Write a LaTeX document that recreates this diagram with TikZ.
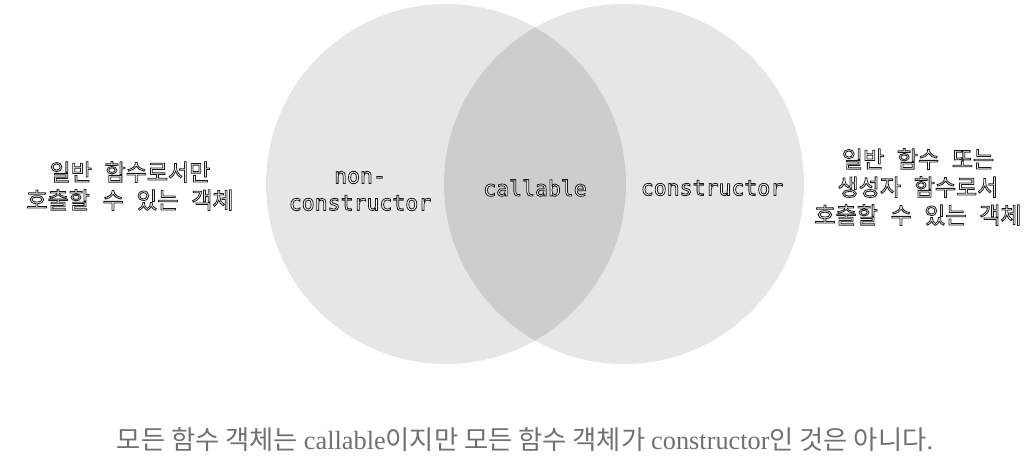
\documentclass[tikz,border=0pt]{standalone}
\usepackage{fontspec}
\setmainfont{Liberation Serif}
\newfontfamily\kr{Noto Sans CJK KR}
\newfontfamily\mono{DejaVu Sans Mono}
\definecolor{circ}{HTML}{E6E6E6}
\definecolor{lens}{HTML}{CDCDCD}
\definecolor{capgray}{HTML}{707070}
\newcommand\olt[1]{\special{pdf:literal direct 2 Tr 0.8 w 0.1 0.1 0.1 RG}#1\special{pdf:literal direct 0 Tr}}
\newcommand\ks{\hspace{0.55em}}
\begin{document}
\begin{tikzpicture}[x=1pt,y=-1pt,
  hangul/.style={font=\kr\fontsize{23}{28}\selectfont, text=white, align=center, inner sep=0pt},
  monolbl/.style={font=\mono\fontsize{21.5}{27}\selectfont, text=white, align=center, inner sep=0pt},
  captionstyle/.style={font=\fontsize{26.3}{30}\selectfont, text=capgray, inner sep=0pt}
]
\useasboundingbox (0,0) rectangle (1035,473);
\coordinate (cL) at (446,184);
\coordinate (cR) at (624,184);
\fill[circ] (cL) circle[radius=180pt];
\fill[circ] (cR) circle[radius=180pt];
\begin{scope}
  \clip (cL) circle[radius=180pt];
  \fill[lens] (cR) circle[radius=180pt];
\end{scope}
\node[hangul] (leftlbl) at (130,186) {\olt{일반\ks 함수로서만}\\\olt{호출할\ks 수\ks 있는\ks 객체}};
\node[hangul] (rightlbl) at (918,187) {\olt{일반\ks 함수\ks 또는}\\\olt{생성자\ks 함수로서}\\\olt{호출할\ks 수\ks 있는\ks 객체}};
\node[monolbl] (non) at (360,191) {\olt{non-}\\\olt{constructor}};
\node[monolbl] (call) at (535,188) {\olt{callable}};
\node[monolbl] (cons) at (712,188) {\olt{constructor}};
\node[captionstyle] (caption) at (525,440) {{\kr 모든 함수 객체는 }callable{\kr 이지만 모든 함수 객체가 }constructor{\kr 인 것은 아니다}.};
\end{tikzpicture}
\end{document}
